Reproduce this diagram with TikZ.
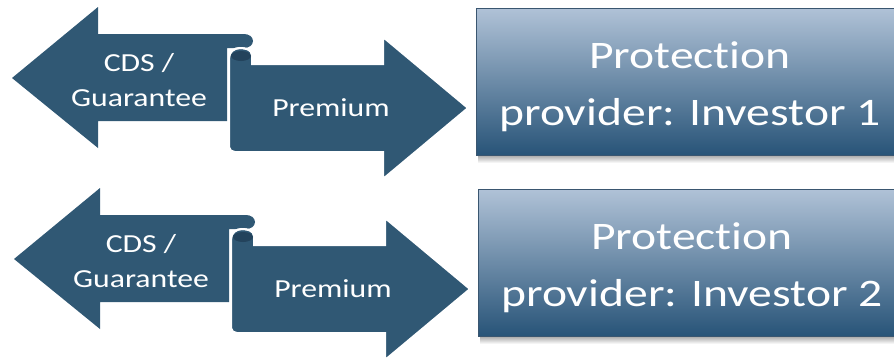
\documentclass[tikz,border=0pt]{standalone}
\usepackage{fontspec}
\setmainfont{Carlito}[FakeStretch=1.22,Ligatures=NoCommon]
\definecolor{arrowblue}{RGB}{48,88,116}
\definecolor{curlblue}{RGB}{35,67,92}
\definecolor{boxtop}{RGB}{176,194,215}
\definecolor{boxbot}{RGB}{40,84,120}
\definecolor{boxline}{RGB}{58,86,112}

\begin{document}
\begin{tikzpicture}[x=0.5pt,y=-0.5pt,
  pay/.style={fill=arrowblue},
  prot/.style={draw=boxline,line width=0.5pt,top color=boxtop,bottom color=boxbot},
  lbl/.style={text=white,align=center,font=\fontsize{13}{17.5}\selectfont},
  biglbl/.style={text=white,align=center,font=\fontsize{19.5}{28.5}\selectfont}]
\clip (0,0) rectangle (894,360);
\foreach \n/\dx/\dy in {1/0/0,2/2/181} {
\begin{scope}[shift={(\dx,\dy)}]
% CDS / Guarantee arrow
\fill[pay] (12,78) -- (98,7) -- (98,34) -- (244,34) to[out=0,in=90] (253,41) to[out=-90,in=0] (244,48) -- (227,48) -- (227,121) -- (98,121) -- (98,148) -- cycle;
% Premium arrow
\filldraw[pay,draw=white,line width=1pt] (229,147) -- (229,57) to[out=90,in=180] (240,48) to[out=0,in=90] (252,55) -- (252,64) -- (383,64) -- (383,37) -- (468,108) -- (383,179) -- (383,152) -- (235,152) to[out=180,in=-90] (229,147) -- cycle;
\fill[curlblue] (241,56) ellipse [x radius=10, y radius=5];
\draw[white,line width=1pt] (229,58) to[out=90,in=180] (240,48) to[out=0,in=90] (252,55);
\node[lbl] (cds\n) at (139,80) {CDS /\\Guarantee};
\node[lbl] (prem\n) at (331,108) {Premium};
% investor box
\shade[top color=black!35,bottom color=white] (478,155) rectangle (905,163);
\path[prot] (476,8) rectangle (905,155);
\node[biglbl] (inv\n) at (690,87) {Protection\\provider: Investor \n};
\end{scope}
}
\end{tikzpicture}
\end{document}
